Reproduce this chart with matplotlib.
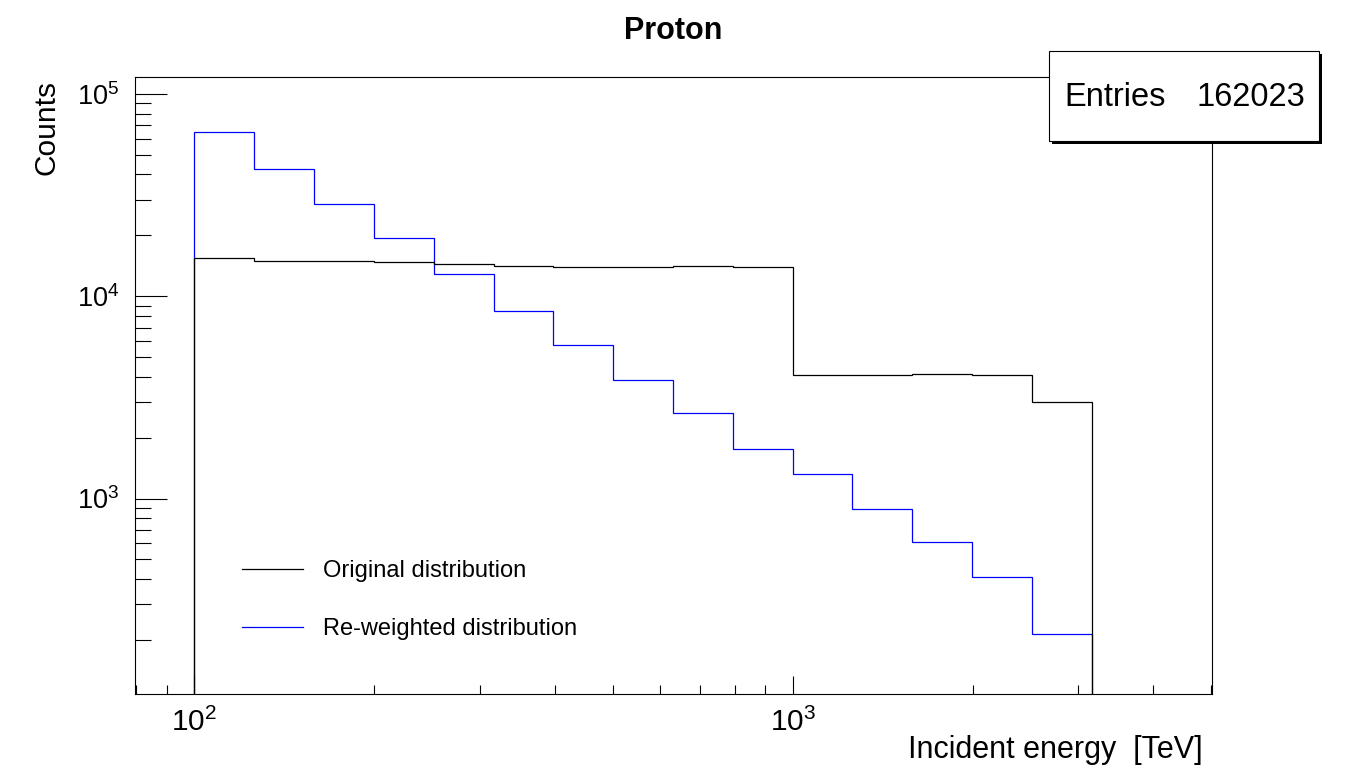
import matplotlib
matplotlib.use('Agg')
import matplotlib.pyplot as plt
from matplotlib.patches import Rectangle
from matplotlib.lines import Line2D
from matplotlib.ticker import LogLocator, NullFormatter

plt.rcParams['font.family'] = ['Liberation Sans', 'DejaVu Sans']
plt.rcParams['mathtext.fontset'] = 'custom'
plt.rcParams['mathtext.rm'] = 'Liberation Sans'
plt.rcParams['mathtext.it'] = 'Liberation Sans:italic'
plt.rcParams['mathtext.bf'] = 'Liberation Sans:bold'

# ---- data ----
bin_edges = [100, 125.89, 158.49, 199.53, 251.19, 316.23, 398.11, 501.19,
             630.96, 794.33, 1000, 1258.9, 1584.9, 1995.3, 2511.9, 3162.3]
original_counts = [15410, 14890, 14890, 14730, 14390, 14070, 13910, 13910,
                   14120, 13950, 4070, 4070, 4116, 4070, 2992]
reweighted_counts = [64680, 42450, 28500, 19350, 12850, 8430, 5725, 3843,
                     2649, 1752, 1319, 885, 608, 408, 213]
legend_labels = ['Original distribution', 'Re-weighted distribution']
title = 'Proton'
x_title = 'Incident energy  [TeV]'
y_title = 'Counts'
entries = 162023

W, H = 1346, 772
fig = plt.figure(figsize=(W / 100, H / 100), dpi=100)


def px(x):
    return x / W


def py(y):
    return 1 - y / H


left, right, top, bottom = 134.5, 1211.5, 77.0, 693.5
ax = fig.add_axes([px(left), py(bottom), (right - left) / W, (bottom - top) / H])

ax.stairs(reweighted_counts, bin_edges, baseline=1, color='#0000ff', lw=0.9, zorder=2)
ax.stairs(original_counts, bin_edges, baseline=1, color='black', lw=0.9, zorder=3)

ax.set_xscale('log')
ax.set_yscale('log')
ax.set_xlim(10 ** 1.9, 10 ** 3.7)
ax.set_ylim(108.8, 1.213e5)

for axis in (ax.xaxis, ax.yaxis):
    axis.set_major_locator(LogLocator(base=10, numticks=20))
    axis.set_minor_locator(LogLocator(base=10, subs=range(2, 10), numticks=40))
    axis.set_minor_formatter(NullFormatter())

ax.tick_params(which='both', direction='in', top=False, right=False, colors='black')
ax.tick_params(axis='y', which='major', length=23, width=0.8, labelsize=19.5, pad=11)
ax.tick_params(axis='y', which='minor', length=11.5, width=0.8)
ax.tick_params(axis='x', which='major', length=13, width=0.8, labelsize=21.5, pad=10)
ax.tick_params(axis='x', which='minor', length=6.5, width=0.8)
for s in ax.spines.values():
    s.set_linewidth(0.8)

# titles
fig.text(px(673), py(39), title, ha='center', va='baseline', fontsize=22, fontweight='bold')
fig.text(px(1203), py(758), x_title, ha='right', va='baseline', fontsize=22)
fig.text(px(47), py(80), y_title, ha='center', va='top', rotation=90, fontsize=21.5)

# legend (manual, ROOT style)
leg_colors = ['black', '#0000ff']
leg_y = [569, 627]
for lab, c, yy in zip(legend_labels, leg_colors, leg_y):
    fig.add_artist(Line2D([px(242), px(303)], [py(yy), py(yy)], color=c, lw=0.9,
                          transform=fig.transFigure))
    fig.text(px(323), py(yy + 8), lab, ha='left', va='baseline', fontsize=17)

# stats box
bx0, bx1, by0, by1 = 1049.3, 1319.3, 50.7, 140.7
fig.add_artist(Rectangle((px(bx0 + 3), py(by1 + 3)), (bx1 - bx0) / W, (by1 - by0) / H,
                         transform=fig.transFigure, facecolor='black', edgecolor='none',
                         zorder=10))
fig.add_artist(Rectangle((px(bx0), py(by1)), (bx1 - bx0) / W, (by1 - by0) / H,
                         transform=fig.transFigure, facecolor='white', edgecolor='black',
                         lw=0.8, zorder=11))
fig.text(px(1064), py(106), 'Entries', ha='left', va='baseline', fontsize=23.5, zorder=12)
fig.text(px(1305), py(106), f'{entries}', ha='right', va='baseline', fontsize=23.5, zorder=12)

fig.savefig('out.png', dpi=100)
